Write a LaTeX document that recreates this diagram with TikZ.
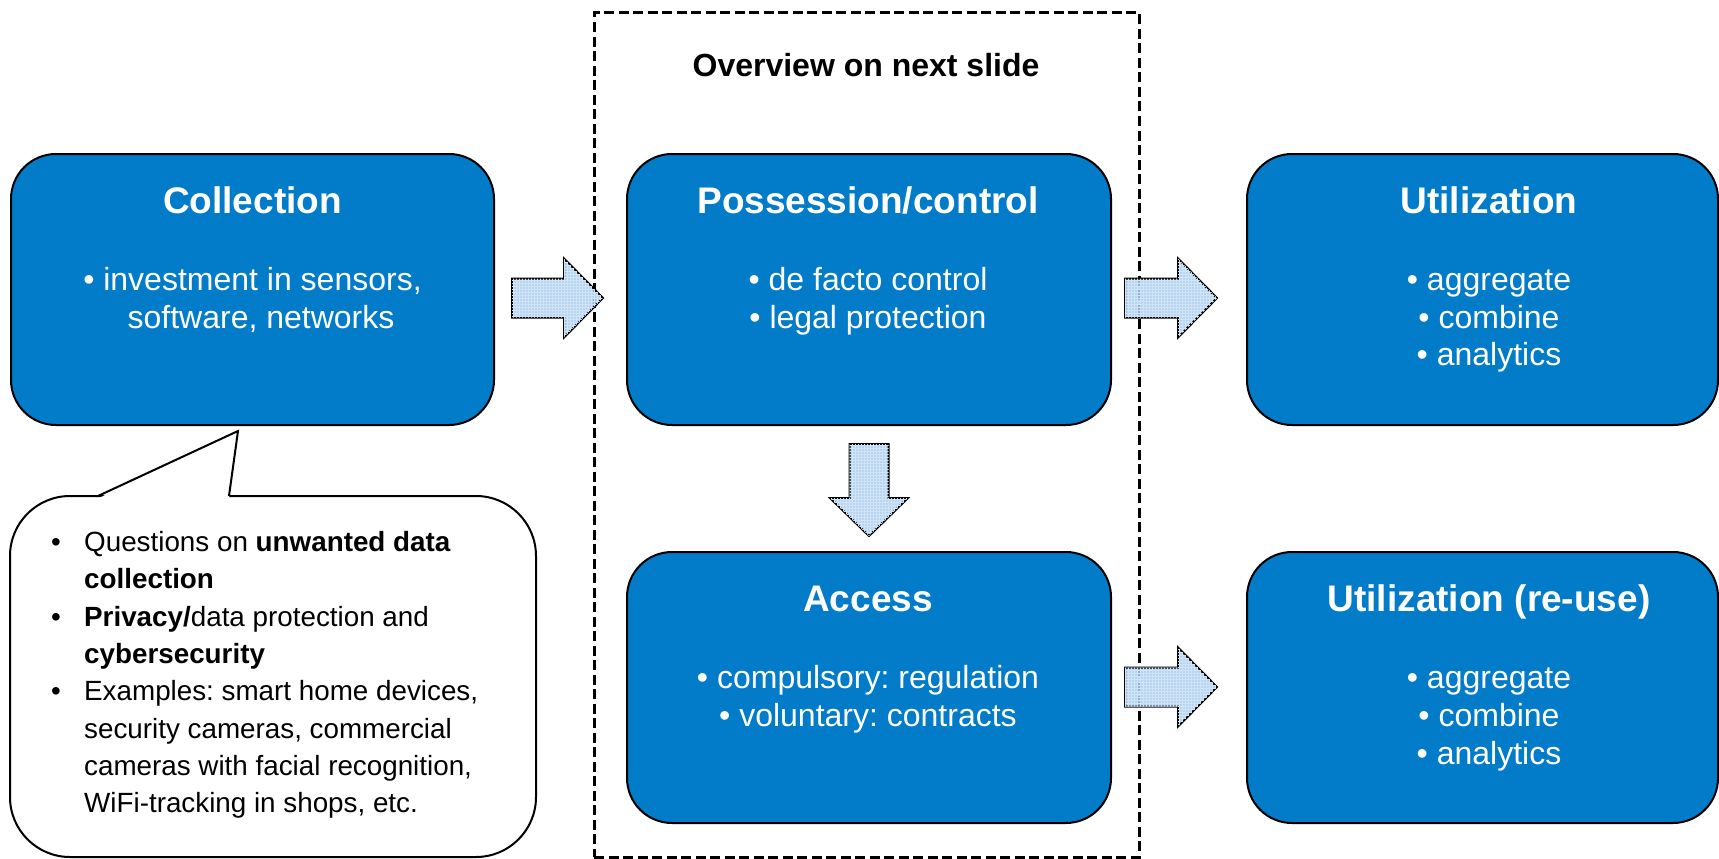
\documentclass[tikz,border=0pt]{standalone}
\usepackage{fontspec}
\setmainfont{Liberation Sans}
\usetikzlibrary{patterns}
\definecolor{boxblue}{RGB}{2,124,201}
\definecolor{arrowblue}{RGB}{170,206,238}
\frenchspacing
\begin{document}
\begin{tikzpicture}[x=1pt,y=-1pt,
  bluebox/.style={draw=black, line width=2pt, fill=boxblue, rounded corners=45pt, inner sep=0pt, minimum height=271pt},
  boxtitle/.style={anchor=base, text=white, font=\fontsize{37}{44}\selectfont\bfseries, inner sep=0pt},
  boxline/.style={anchor=base, text=white, font=\fontsize{32}{38}\selectfont, inner sep=0pt},
  calline/.style={anchor=base west, text=black, font=\fontsize{27.8}{37}\selectfont, inner sep=0pt},
  blockarrow/.style={draw=black, line width=2pt, fill=arrowblue, fill opacity=0.85, line join=miter,
     postaction={pattern=grid, pattern color=white!45!arrowblue}},
  groupbox/.style={draw=black, line width=3pt, dash pattern=on 10pt off 4.5pt, inner sep=0pt},
  calloutbox/.style={draw=black, line width=2pt, fill=white, rounded corners=60pt, inner sep=0pt}
]
\useasboundingbox (0,0) rectangle (1719,859);

% dashed group
\node[groupbox, minimum width=545pt, minimum height=844pt] (grp) at (866.5,435) {};
\node[anchor=base, font=\fontsize{32}{38}\selectfont\bfseries, inner sep=0pt] (ovw) at (866,77) {Overview on next slide};

% blue boxes
\node[bluebox, minimum width=483pt] (coll) at (252.5,289.5) {};
\node[bluebox, minimum width=484pt] (poss) at (869,289.5) {};
\node[bluebox, minimum width=471pt] (util) at (1482.5,289.5) {};
\node[bluebox, minimum width=484pt] (acc) at (869,687.5) {};
\node[bluebox, minimum width=471pt] (reuse) at (1482.5,687.5) {};

% block arrows
\draw[blockarrow, shift={(512,298)}] (0,-19.5) -- (52,-19.5) -- (52,-39.5) -- (91,0) -- (52,39.5) -- (52,19.5) -- (0,19.5) -- cycle;
\draw[blockarrow, shift={(1125,298)}] (0,-19.5) -- (53,-19.5) -- (53,-39.5) -- (92,0) -- (53,39.5) -- (53,19.5) -- (0,19.5) -- cycle;
\draw[blockarrow, shift={(1125,687)}] (0,-19.5) -- (53,-19.5) -- (53,-39.5) -- (92,0) -- (53,39.5) -- (53,19.5) -- (0,19.5) -- cycle;
\draw[blockarrow, shift={(869,444)}] (-19.5,0) -- (-19.5,54) -- (-39,54) -- (0,92) -- (39,54) -- (19.5,54) -- (19.5,0) -- cycle;

% texts in boxes
\node[boxtitle] (collT) at (252.5,213) {Collection};
\node[boxline] (coll1) at (252.5,290) {• investment in sensors,};
\node[boxline] (coll2) at (261,328) {software, networks};

\node[boxtitle] (possT) at (868,213) {Possession/control};
\node[boxline] (poss1) at (868,290) {• de facto control};
\node[boxline] (poss2) at (868,328) {• legal protection};

\node[boxtitle] (utilT) at (1489,213) {Utilization};
\node[boxline] (util1) at (1489,290) {• aggregate};
\node[boxline] (util2) at (1489,328) {• combine};
\node[boxline] (util3) at (1489,365) {• analytics};

\node[boxtitle] (accT) at (868,611) {Access};
\node[boxline] (acc1) at (868,688) {• compulsory: regulation};
\node[boxline] (acc2) at (868,726) {• voluntary: contracts};

\node[boxtitle] (reuseT) at (1489,611) {Utilization (re-use)};
\node[boxline] (reuse1) at (1489,688) {• aggregate};
\node[boxline] (reuse2) at (1489,726) {• combine};
\node[boxline] (reuse3) at (1489,764) {• analytics};

% callout
\node[calloutbox, minimum width=526pt, minimum height=361pt] (call) at (273,676.5) {};
\coordinate (tailL) at (98,496);
\coordinate (tailtip) at (238,431);
\coordinate (tailR) at (229,496);
\fill[white] (98,498.5) -- (tailtip) -- (229,498.5) -- cycle;
\draw[line width=2pt, line join=miter] (tailL) -- (tailtip) -- (tailR);

\node[calline] (b1) at (51,551) {•};
\node[calline] (b2) at (51,626) {•};
\node[calline] (b3) at (51,700) {•};
\node[calline] (c1) at (84,551) {Questions on \textbf{unwanted data}};
\node[calline] (c2) at (84,588) {\textbf{collection}};
\node[calline] (c3) at (84,626) {\textbf{Privacy/}data protection and};
\node[calline] (c4) at (84,663) {\textbf{cybersecurity}};
\node[calline] (c5) at (84,700) {Examples: smart home devices,};
\node[calline] (c6) at (84,738) {security cameras, commercial};
\node[calline] (c7) at (84,775) {cameras with facial recognition,};
\node[calline] (c8) at (84,812) {WiFi-tracking in shops, etc.};
\end{tikzpicture}
\end{document}
